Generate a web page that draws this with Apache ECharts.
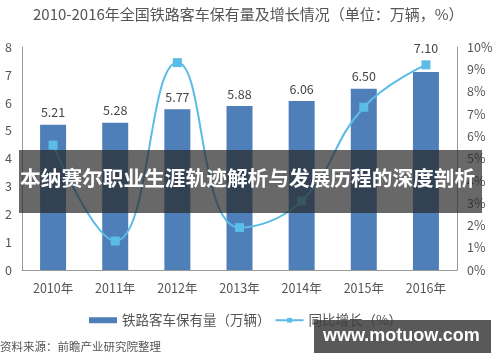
<!DOCTYPE html>
<html><head><meta charset="utf-8">
<script src="https://cdn.jsdelivr.net/npm/echarts@6/dist/echarts.min.js"></script>
<style>html,body{margin:0;padding:0;background:#fff}#c{width:500px;height:362px}</style>
</head><body><div id="c"></div>
<script>
var years = ['2010年','2011年','2012年','2013年','2014年','2015年','2016年'];
var stock = [5.21, 5.28, 5.77, 5.88, 6.06, 6.50, 7.10];
var growth = [5.6, 1.3, 9.3, 1.9, 3.1, 7.3, 9.2];
var seriesNames = ['铁路客车保有量（万辆）', '同比增长（%）'];
var titleText = '2010-2016年全国铁路客车保有量及增长情况（单位：万辆，%）';
var bannerText = '本纳赛尔职业生涯轨迹解析与发展历程的深度剖析';
var sourceText = '资料来源：前瞻产业研究院整理';
var watermark = 'www.motuow.com';

var font = 'Noto Sans CJK SC';
var barData = stock.map(function(v, i){
  return i === stock.length - 1 ? {value: v, label: {distance: 18}} : v;
});
var chart = echarts.init(document.getElementById('c'));
chart.setOption({
  animation: false,
  textStyle: {fontFamily: font},
  title: {text: titleText, left: 28, top: 2, textStyle: {fontSize: 15, fontWeight: 'normal', color: '#555', fontFamily: font}},
  legend: {
    bottom: 30, left: 84, itemGap: 4,
    textStyle: {fontSize: 13.5, color: '#555', fontFamily: font},
    data: [
      {name: seriesNames[0], icon: 'rect', itemStyle: {color: '#4f7fb8'}},
      {name: seriesNames[1]}
    ],
    itemWidth: 28, itemHeight: 6
  },
  grid: {left: 22, right: 43, top: 47, bottom: 92},
  xAxis: {
    type: 'category', data: years,
    axisLine: {lineStyle: {color: '#999'}},
    axisTick: {show: false},
    axisLabel: {color: '#555', fontSize: 12.5, margin: 12}
  },
  yAxis: [
    {type: 'value', min: 0, max: 8, interval: 1,
     axisLine: {show: true, lineStyle: {color: '#999'}}, axisTick: {show: false},
     splitLine: {show: false},
     axisLabel: {color: '#555', fontSize: 12.5, margin: 10}},
    {type: 'value', min: 0, max: 10, interval: 1,
     axisLine: {show: true, lineStyle: {color: '#999'}}, axisTick: {show: false},
     splitLine: {show: false},
     axisLabel: {color: '#555', fontSize: 12.5, margin: 10, formatter: '{value}%'}}
  ],
  series: [
    {name: seriesNames[0], type: 'bar', data: barData, barWidth: 26,
     itemStyle: {color: '#4f7fb8'},
     label: {show: true, position: 'top', distance: 6, color: '#444', fontSize: 12.5, formatter: function(p){return p.value.toFixed(2);}}},
    {name: seriesNames[1], type: 'line', yAxisIndex: 1, data: growth, smooth: 0.45,
     symbol: 'rect', symbolSize: 9,
     lineStyle: {color: '#5bbce8', width: 2},
     itemStyle: {color: '#5bbce8'}}
  ],
  graphic: [
    {type: 'rect', left: 19, top: 150, z: 100, shape: {width: 463, height: 63}, style: {fill: 'rgba(40,40,40,0.7)'}},
    {type: 'text', left: 20, top: 168, z: 101, style: {text: bannerText, fill: '#fff', font: 'bold 20.7px "Noto Sans CJK SC"'}},
    {type: 'text', left: 0, top: 341, z: 101, style: {text: sourceText, fill: '#555', font: '11.5px "Noto Sans CJK SC"'}},
    {type: 'rect', left: 314, top: 320, z: 100, shape: {width: 177, height: 33}, style: {fill: 'rgba(60,60,60,0.85)'}},
    {type: 'text', left: 323, top: 327, z: 101, style: {text: watermark, fill: '#fff', font: 'bold 18px "Liberation Sans"'}}
  ]
});
</script></body></html>
